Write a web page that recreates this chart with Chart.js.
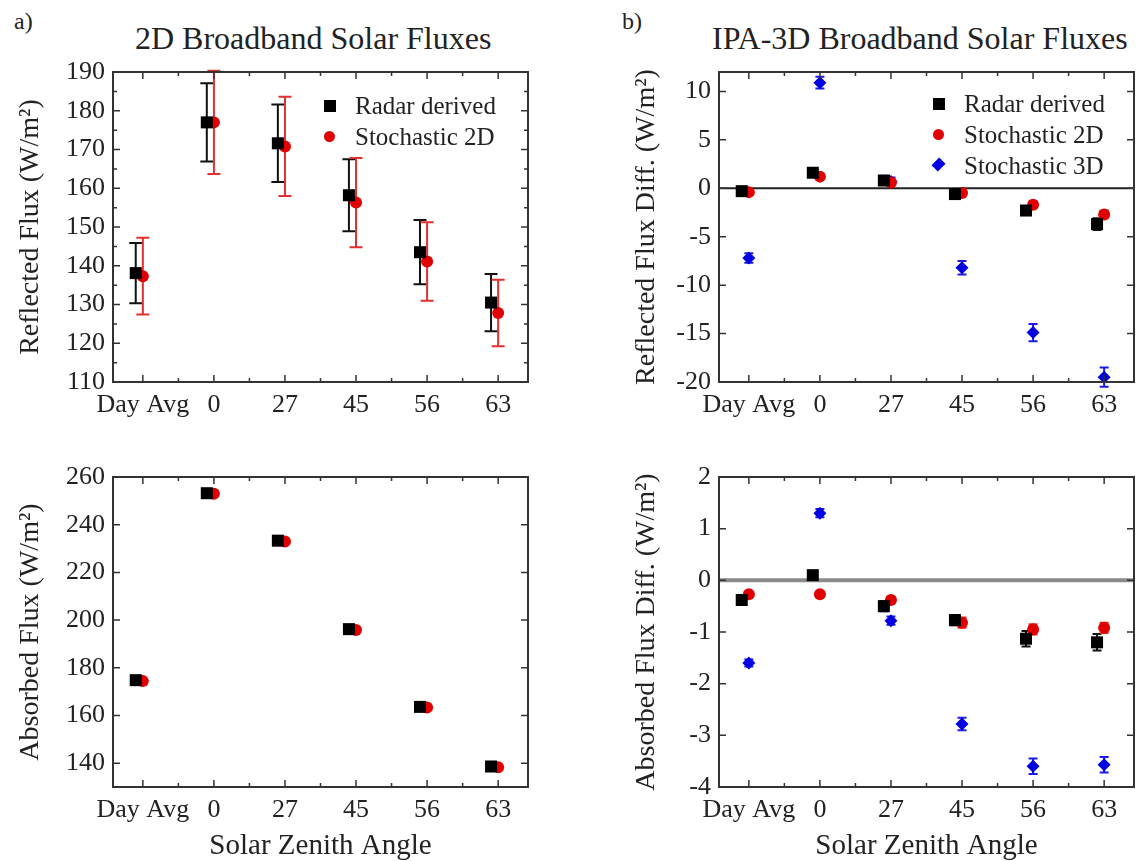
<!DOCTYPE html>
<html>
<head>
<meta charset="utf-8">
<script src="https://cdn.jsdelivr.net/npm/chart.js@4.4.1/dist/chart.umd.min.js"></script>
<style>
  body { margin: 0; background: #fff; width: 1148px; height: 861px; position: relative; overflow: hidden;
         font-family: "Liberation Serif", "DejaVu Serif", serif; color: #222; }
  canvas { position: absolute; }
  .txt { position: absolute; white-space: nowrap; }
  .panel-tag { font-size: 24px; }
  .title { font-size: 32px; }
  .legend { position: absolute; font-size: 25px; line-height: 31px; }
  .legend .row { position: relative; height: 31px; padding-left: 31px; }
  .legend .mk { position: absolute; left: 0; top: 10px; }
  .sq { width: 12px; height: 12px; background: #000; }
  .ci { width: 11px; height: 11px; border-radius: 50%; background: #e00000; }
  .di { width: 9px; height: 9px; background: #0000e0; transform: rotate(45deg) scaleY(1.2); left: 1px !important; }
</style>
</head>
<body>
<div class="txt panel-tag" style="left:14px;top:8px">a)</div>
<div class="txt panel-tag" style="left:622px;top:8px">b)</div>
<div class="txt title" style="left:135px;top:20px">2D Broadband Solar Fluxes</div>
<div class="txt title" style="left:712px;top:20px">IPA-3D Broadband Solar Fluxes</div>

<canvas id="aTop" width="574" height="430" style="left:0;top:0"></canvas>
<canvas id="bTop" width="574" height="430" style="left:574px;top:0"></canvas>
<canvas id="aBot" width="574" height="431" style="left:0;top:430px"></canvas>
<canvas id="bBot" width="574" height="431" style="left:574px;top:430px"></canvas>

<div class="legend" style="left:324px;top:90px">
  <div class="row"><div class="mk sq"></div>Radar derived</div>
  <div class="row"><div class="mk ci"></div>Stochastic 2D</div>
</div>
<div class="legend" style="left:933px;top:88px">
  <div class="row"><div class="mk sq"></div>Radar derived</div>
  <div class="row"><div class="mk ci"></div>Stochastic 2D</div>
  <div class="row"><div class="mk di"></div>Stochastic 3D</div>
</div>

<script>
// categories (solar zenith angle)
const zenithLabels = ['Day Avg', '0', '27', '45', '56', '63'];

// a) top: reflected flux (W/m2)
const reflRadar = [138.1, 177.0, 171.6, 158.2, 143.5, 130.5];
const reflRadarErr = [7.8, 10.1, 10.0, 9.3, 8.3, 7.4];
const reflStoch2D = [137.3, 177.0, 170.8, 156.3, 141.1, 127.8];
const reflStoch2DErr = [9.9, 13.3, 12.8, 11.5, 10.1, 8.6];
const reflTicks = [110, 120, 130, 140, 150, 160, 170, 180, 190];

// a) bottom: absorbed flux (W/m2)
const absRadar = [174.8, 253.2, 233.3, 196.2, 163.6, 138.6];
const absStoch2D = [174.4, 253.0, 233.0, 195.8, 163.3, 138.3];
const absTicks = [140, 160, 180, 200, 220, 240, 260];

// b) top: reflected flux difference IPA-3D
const reflDiffRadar = [-0.3, 1.6, 0.8, -0.6, -2.3, -3.7];
const reflDiffRadarErr = [0.2, 0.2, 0.2, 0.3, 0.4, 0.6];
const reflDiff2D = [-0.4, 1.2, 0.6, -0.5, -1.7, -2.7];
const reflDiff2DErr = [0.2, 0.2, 0.2, 0.2, 0.3, 0.4];
const reflDiff3D = [-7.2, 10.9, 0.7, -8.2, -14.9, -19.5];
const reflDiff3DErr = [0.5, 0.6, 0.4, 0.7, 0.9, 1.0];
const reflDiffTicks = [-20, -15, -10, -5, 0, 5, 10];

// b) bottom: absorbed flux difference IPA-3D
const absDiffRadar = [-0.38, 0.1, -0.5, -0.77, -1.13, -1.2];
const absDiffRadarErr = [0.05, 0.05, 0.1, 0.1, 0.15, 0.16];
const absDiff2D = [-0.27, -0.27, -0.38, -0.82, -0.95, -0.92];
const absDiff2DErr = [0.04, 0.04, 0.06, 0.1, 0.1, 0.1];
const absDiff3D = [-1.6, 1.3, -0.78, -2.78, -3.6, -3.57];
const absDiff3DErr = [0.07, 0.08, 0.08, 0.12, 0.15, 0.15];
const absDiffTicks = [-4, -3, -2, -1, 0, 1, 2];

const FONT = 'Liberation Serif';
const INK = '#222';
const X_MIN = -0.42, X_MAX = 5.42;

// error bars, drawn under the markers
const errorBars = {
    id: 'errorBars',
    beforeDatasetsDraw(chart) {
        const {ctx, scales: {x, y}} = chart;
        ctx.save();
        chart.data.datasets.forEach(ds => {
            if (!ds.errors) return;
            ctx.strokeStyle = ds.errColor || ds.backgroundColor;
            ctx.lineWidth = 2;
            ds.data.forEach((p, i) => {
                const e = ds.errors[i];
                if (!e) return;
                const px = x.getPixelForValue(p.x);
                const y1 = y.getPixelForValue(p.y - e);
                const y2 = y.getPixelForValue(p.y + e);
                const c = ds.capWidth / 2;
                ctx.beginPath();
                ctx.moveTo(px, y1); ctx.lineTo(px, y2);
                ctx.moveTo(px - c, y1); ctx.lineTo(px + c, y1);
                ctx.moveTo(px - c, y2); ctx.lineTo(px + c, y2);
                ctx.stroke();
            });
        });
        ctx.restore();
    }
};

// box around plot with inward ticks on all sides
const frame = {
    id: 'frame',
    afterDatasetsDraw(chart, args, opts) {
        const {ctx, chartArea: a, scales: {x, y}} = chart;
        ctx.save();
        ctx.strokeStyle = '#333';
        ctx.lineWidth = 1.5;
        ctx.beginPath();
        const seg = (px, py, dx, dy) => { ctx.moveTo(px, py); ctx.lineTo(px + dx, py + dy); };
        x.ticks.forEach(t => {
            const px = x.getPixelForValue(t.value);
            seg(px, a.bottom, 0, -7); seg(px, a.top, 0, 7);
        });
        y.ticks.forEach(t => {
            const py = y.getPixelForValue(t.value);
            seg(a.left, py, 7, 0); seg(a.right, py, -7, 0);
        });
        if (opts.xMinor) {
            for (let v = Math.ceil(x.min / opts.xMinor) * opts.xMinor; v <= x.max; v += opts.xMinor) {
                if (Math.abs(v - Math.round(v)) < 1e-6) continue;
                const px = x.getPixelForValue(v);
                seg(px, a.bottom, 0, -4); seg(px, a.top, 0, 4);
            }
        }
        if (opts.yMinor) {
            const majors = y.ticks.map(t => t.value);
            for (let v = Math.ceil(y.min / opts.yMinor) * opts.yMinor; v <= y.max; v += opts.yMinor) {
                if (majors.includes(v)) continue;
                const py = y.getPixelForValue(v);
                seg(a.left, py, 4, 0); seg(a.right, py, -4, 0);
            }
        }
        ctx.stroke();
        ctx.lineWidth = 2;
        ctx.strokeRect(a.left, a.top, a.right - a.left, a.bottom - a.top);
        ctx.restore();
    }
};

function points(values, offset) {
    return values.map((v, i) => ({x: i + offset, y: v}));
}

function series(values, errs, kind, capWidth) {
    const styles = {
        radar: {pointStyle: 'rect', pointRadius: 8.5, backgroundColor: '#000', errColor: '#111', offset: -0.1},
        s2d: {pointStyle: 'circle', pointRadius: 6, backgroundColor: '#e00000', errColor: '#e23030', offset: 0},
        s3d: {pointStyle: 'rectRot', pointRadius: 6.5, backgroundColor: '#0000e0', errColor: '#1a1ae6', offset: 0}
    };
    const s = styles[kind];
    return {
        data: points(values, s.offset),
        errors: errs,
        errColor: s.errColor,
        capWidth: capWidth,
        pointStyle: s.pointStyle,
        pointRadius: s.pointRadius,
        pointBorderWidth: 0,
        backgroundColor: s.backgroundColor,
        borderColor: s.backgroundColor,
        showLine: false,
        order: 1
    };
}

function zeroLine(color, width) {
    return {
        type: 'line',
        data: [{x: X_MIN, y: 0}, {x: X_MAX, y: 0}],
        borderColor: color,
        borderWidth: width,
        pointRadius: 0,
        order: 10
    };
}

function makePanel(id, p) {
    const ctx = document.getElementById(id).getContext('2d');
    new Chart(ctx, {
        type: 'scatter',
        data: {datasets: p.datasets},
        options: {
            responsive: false,
            animation: false,
            events: [],
            layout: {padding: {top: p.top, right: p.right, left: 0, bottom: 0}},
            plugins: {
                legend: {display: false},
                tooltip: {enabled: false},
                frame: {xMinor: 0.5, yMinor: p.yMinor}
            },
            scales: {
                x: {
                    type: 'linear',
                    min: X_MIN,
                    max: X_MAX,
                    afterBuildTicks: s => { s.ticks = zenithLabels.map((_, i) => ({value: i})); },
                    afterFit: s => { s.height = p.bottomH; },
                    grid: {display: false, drawTicks: false},
                    border: {display: false},
                    ticks: {
                        callback: v => zenithLabels[v],
                        autoSkip: false,
                        maxRotation: 0,
                        padding: 8,
                        color: INK,
                        font: {family: FONT, size: 26}
                    },
                    title: {
                        display: !!p.xTitle,
                        text: p.xTitle || '',
                        color: INK,
                        font: {family: FONT, size: 29, lineHeight: 1},
                        padding: {top: 0, bottom: 0}
                    }
                },
                y: {
                    min: p.yMin,
                    max: p.yMax,
                    afterBuildTicks: s => { s.ticks = p.yTicks.map(v => ({value: v})); },
                    afterFit: s => { s.width = p.leftW; },
                    grid: {display: false, drawTicks: false},
                    border: {display: false},
                    ticks: {padding: 8, color: INK, font: {family: FONT, size: 26}},
                    title: {
                        display: true,
                        text: p.yTitle,
                        color: INK,
                        font: {family: FONT, size: 28},
                        padding: {top: p.yTitlePad, bottom: 0}
                    }
                }
            }
        },
        plugins: [errorBars, frame]
    });
}

makePanel('aTop', {
    top: 72, right: 46, leftW: 113, bottomH: 48,
    yMin: 110, yMax: 190, yTicks: reflTicks, yMinor: 5,
    yTitle: 'Reflected Flux (W/m²)', yTitlePad: 14,
    datasets: [
        series(reflRadar, reflRadarErr, 'radar', 13),
        series(reflStoch2D, reflStoch2DErr, 's2d', 13)
    ]
});

makePanel('bTop', {
    top: 72, right: 14, leftW: 145, bottomH: 48,
    yMin: -20, yMax: 12, yTicks: reflDiffTicks,
    yTitle: 'Reflected Flux Diff. (W/m²)', yTitlePad: 56,
    datasets: [
        zeroLine('#222', 2),
        series(reflDiffRadar, reflDiffRadarErr, 'radar', 9),
        series(reflDiff2D, reflDiff2DErr, 's2d', 9),
        series(reflDiff3D, reflDiff3DErr, 's3d', 9)
    ]
});

makePanel('aBot', {
    top: 47, right: 46, leftW: 113, bottomH: 74,
    yMin: 130, yMax: 260, yTicks: absTicks,
    yTitle: 'Absorbed Flux (W/m²)', yTitlePad: 14, xTitle: 'Solar Zenith Angle',
    datasets: [
        series(absRadar, null, 'radar', 9),
        series(absStoch2D, null, 's2d', 9)
    ]
});

makePanel('bBot', {
    top: 47, right: 14, leftW: 145, bottomH: 74,
    yMin: -4, yMax: 2, yTicks: absDiffTicks,
    yTitle: 'Absorbed Flux Diff. (W/m²)', yTitlePad: 56, xTitle: 'Solar Zenith Angle',
    datasets: [
        zeroLine('#8a8a8a', 4),
        series(absDiffRadar, absDiffRadarErr, 'radar', 9),
        series(absDiff2D, absDiff2DErr, 's2d', 9),
        series(absDiff3D, absDiff3DErr, 's3d', 9)
    ]
});
</script>
</body>
</html>
